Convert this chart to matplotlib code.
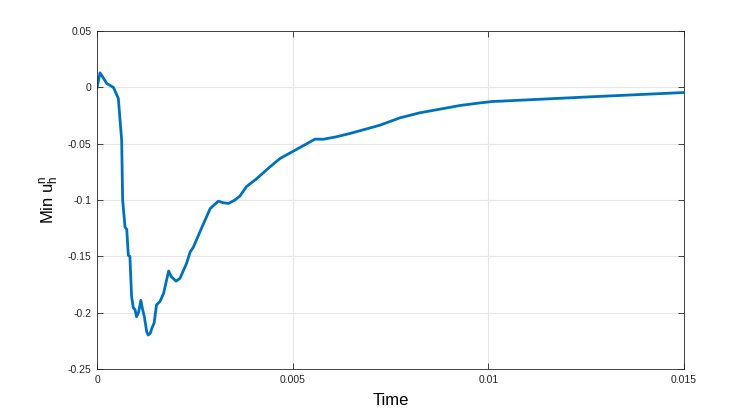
import matplotlib
matplotlib.use("Agg")
import matplotlib.pyplot as plt

plt.rcParams['font.family'] = ['Liberation Sans', 'DejaVu Sans']
plt.rcParams['mathtext.fontset'] = 'custom'
plt.rcParams['mathtext.rm'] = 'Liberation Sans'
plt.rcParams['mathtext.it'] = 'Liberation Sans'

# time and minimum of u_h^n
time = [0.0, 0.000077, 0.00025, 0.00042, 0.000545, 0.00063, 0.000655, 0.000716,
        0.00076, 0.0008, 0.00084, 0.000884, 0.00093, 0.00097, 0.00101, 0.00106,
        0.00112, 0.00117, 0.00121, 0.00127, 0.00131, 0.00136, 0.0014, 0.00146,
        0.00152, 0.00161, 0.0017, 0.00183, 0.0019, 0.00202, 0.00212, 0.00229,
        0.00238, 0.00246, 0.00267, 0.00289, 0.00297, 0.0031, 0.00323, 0.00336,
        0.00352, 0.00365, 0.00382, 0.00408, 0.00442, 0.00468, 0.0051, 0.00557,
        0.00578, 0.00612, 0.00647, 0.00693, 0.00723, 0.00774, 0.00825, 0.00876,
        0.00928, 0.00979, 0.01013, 0.0103, 0.0125, 0.015]
min_u = [0.0, 0.013, 0.0035, 0.0, -0.0098, -0.047, -0.1, -0.124,
         -0.126, -0.149, -0.150, -0.186, -0.196, -0.197, -0.2036, -0.2,
         -0.189, -0.198, -0.2036, -0.217, -0.2198, -0.2183, -0.214, -0.209,
         -0.193, -0.19, -0.183, -0.163, -0.168, -0.172, -0.1695, -0.156,
         -0.146, -0.142, -0.125, -0.1077, -0.105, -0.101, -0.1024, -0.103,
         -0.1, -0.0965, -0.088, -0.081, -0.0705, -0.063, -0.055, -0.0459,
         -0.046, -0.0438, -0.0408, -0.0364, -0.0335, -0.027, -0.0225, -0.0193,
         -0.016, -0.0137, -0.0124, -0.0122, -0.0085, -0.0045]

x_ticks = [0, 0.005, 0.01, 0.015]
x_tick_labels = ['0', '0.005', '0.01', '0.015']
y_ticks = [-0.25, -0.2, -0.15, -0.1, -0.05, 0, 0.05]
y_tick_labels = ['-0.25', '-0.2', '-0.15', '-0.1', '-0.05', '0', '0.05']

fig = plt.figure(figsize=(7.55, 4.15), dpi=100)
ax = fig.add_axes([0.1285, 0.1108, 0.7775, 0.8142])

ax.plot(time, min_u, color='#0072BD', linewidth=2)

ax.set_xlim(0, 0.015)
ax.set_ylim(-0.25, 0.05)
ax.set_xticks(x_ticks)
ax.set_xticklabels(x_tick_labels)
ax.set_yticks(y_ticks)
ax.set_yticklabels(y_tick_labels)
ax.grid(True, color='#e6e6e6', linewidth=0.8)
ax.set_axisbelow(True)
ax.tick_params(direction='in', length=4, width=0.6, labelsize=7.5, colors='#262626',
               top=True, right=True, pad=4)
for sp in ax.spines.values():
    sp.set_color('#262626')
    sp.set_linewidth(0.6)

ax.set_xlabel('Time', fontsize=12, labelpad=6)
ax.set_ylabel(r'Min $\mathregular{u_h^n}$', fontsize=12, labelpad=5)

fig.savefig('out.png', dpi=100)
